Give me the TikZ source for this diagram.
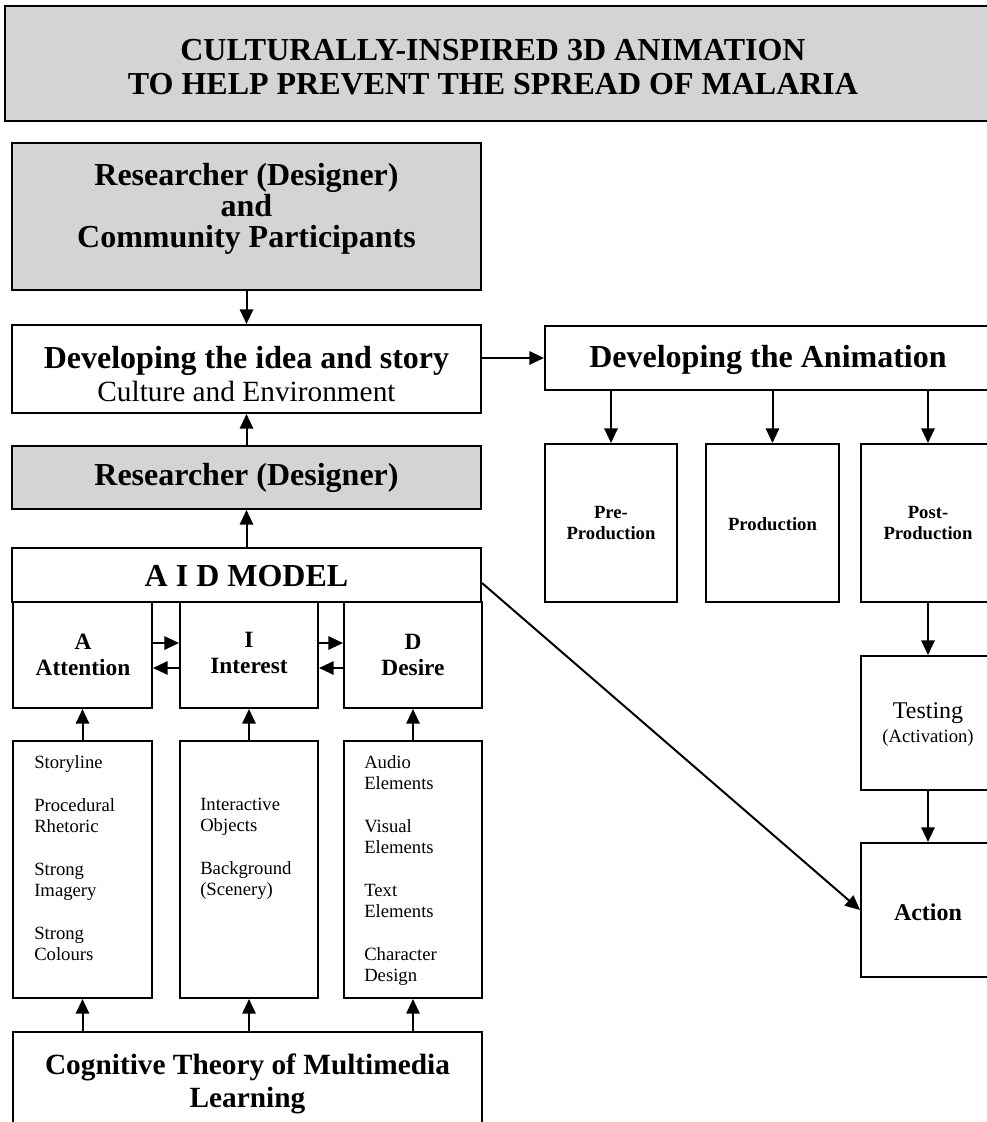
\documentclass[tikz,border=0pt]{standalone}
\usepackage{fontspec}
\setmainfont{Liberation Serif}
\usetikzlibrary{arrows.meta,fit}
\definecolor{boxgray}{RGB}{212,212,212}
\tikzset{
  box/.style={draw, line width=1.5pt, inner sep=0pt},
  gbox/.style={box, fill=boxgray},
  arr/.style={line width=1.5pt, -{Triangle[length=11pt,width=10pt]}},
  txt/.style={inner sep=0pt, align=center},
  big/.style={txt, font=\bfseries\fontsize{24}{23}\selectfont},
  mid/.style={txt, font=\bfseries\fontsize{17.5}{20}\selectfont},
  small/.style={txt, font=\bfseries\fontsize{14}{16}\selectfont},
  listtxt/.style={inner sep=0pt, anchor=north west, align=left, font=\fontsize{14}{15.75}\selectfont},
}
\begin{document}
\begin{tikzpicture}[x=0.75pt,y=-0.75pt]
\useasboundingbox (0,0) rectangle (987,1122);
% title
\node[gbox, fit={(5,6)(995,121)}] (title) {};
\node[txt, font=\bfseries\fontsize{24}{25}\selectfont] (titletxt) at (493,67) {CULTURALLY-INSPIRED 3D ANIMATION\\TO HELP PREVENT THE SPREAD OF MALARIA};
% left column
\node[gbox, fit={(12,143)(481,290)}] (rc) {};
\node[big] (rctxt) at (246.5,209) {Researcher (Designer)\\and\\Community Participants};
\node[box, fit={(12,325)(481,413)}] (dev) {};
\node[txt] (devtxt) at (246.5,374) {\bfseries\fontsize{24}{23}\selectfont Developing the idea and story\\[3pt]\fontsize{22}{21}\selectfont Culture and Environment};
\node[gbox, fit={(12,446)(481,509)}] (res) {};
\node[big] (restxt) at (res.center) {Researcher (Designer)};
\node[box, fit={(12,548)(481,602)}] (aid) {};
\node[big] (aidtxt) at (246.5,576) {A I D MODEL};
\node[box, fit={(13,602)(152,708)}] (att) {};
\node[mid] (atttxt) at (83,655) {A\\Attention};
\node[box, fit={(180,602)(318,708)}] (int) {};
\node[mid] (inttxt) at (249,653) {I\\Interest};
\node[box, fit={(344,602)(482,708)}] (des) {};
\node[mid] (destxt) at (413,655) {D\\Desire};
\node[box, fit={(13,741)(152,998)}] (la) {};
\node[box, fit={(180,741)(318,998)}] (li) {};
\node[box, fit={(344,741)(482,998)}] (ld) {};
\node[listtxt] (lat) at (34,755) {Storyline\\[16.5pt]Procedural\\Rhetoric\\[16.5pt]Strong\\Imagery\\[16.5pt]Strong\\Colours};
\node[listtxt] (lit) at (200,798) {Interactive\\Objects\\[16.5pt]Background\\(Scenery)};
\node[listtxt] (ldt) at (364,755) {Audio\\Elements\\[16.5pt]Visual\\Elements\\[16.5pt]Text\\Elements\\[16.5pt]Character\\Design};
\node[box, fit={(13,1032)(482,1135)}] (cog) {};
\node[txt, font=\bfseries\fontsize{22}{24.75}\selectfont] (cogtxt) at (247.5,1084) {Cognitive Theory of Multimedia\\Learning};
% right column
\node[box, fit={(545,326)(992,390)}] (anim) {};
\node[big] (animtxt) at (768,360) {Developing the Animation};
\node[box, fit={(545,444)(677,602)}] (pre) {};
\node[small] (pretxt) at (611,523) {Pre-\\Production};
\node[box, fit={(706,444)(839,602)}] (prod) {};
\node[small] (prodtxt) at (772.5,524) {Production};
\node[box, fit={(861,444)(995,602)}] (post) {};
\node[small] (posttxt) at (928,523) {Post-\\Production};
\node[box, fit={(861,656)(995,790)}] (test) {};
\node[txt, font=\fontsize{18}{20}\selectfont] (testtxt) at (928,713) {Testing};
\node[txt, font=\fontsize{14}{16}\selectfont] (acttxt2) at (928,738) {(Activation)};
\node[box, fit={(861,843)(995,977)}] (act) {};
\node[txt, font=\bfseries\fontsize{18}{20}\selectfont] (acttxt) at (928,912) {Action};
% connectors
\draw[arr] (rc.south) -- (dev.north);
\draw[arr] (res.north) -- (dev.south);
\draw[arr] (aid.north) -- (res.south);
\draw[arr] (dev.east |- anim.west) -- (anim.west);
\draw[arr] (anim.south -| pre.north) -- (pre.north);
\draw[arr] (anim.south -| prod.north) -- (prod.north);
\draw[arr] (anim.south -| post.north) -- (post.north);
\draw[arr] (post.south) -- (test.north);
\draw[arr] (test.south) -- (act.north);
\draw[arr] ([yshift=-6pt]aid.east) -- (act.west);
\draw[arr] ([yshift=9pt]att.east) -- ([yshift=9pt]int.west);
\draw[arr] ([yshift=-9.75pt]int.west) -- ([yshift=-9.75pt]att.east);
\draw[arr] ([yshift=9pt]int.east) -- ([yshift=9pt]des.west);
\draw[arr] ([yshift=-9.75pt]des.west) -- ([yshift=-9.75pt]int.east);
\draw[arr] (la.north) -- (att.south);
\draw[arr] (li.north) -- (int.south);
\draw[arr] (ld.north) -- (des.south);
\draw[arr] (cog.north -| la.south) -- (la.south);
\draw[arr] (cog.north -| li.south) -- (li.south);
\draw[arr] (cog.north -| ld.south) -- (ld.south);
\end{tikzpicture}
\end{document}
